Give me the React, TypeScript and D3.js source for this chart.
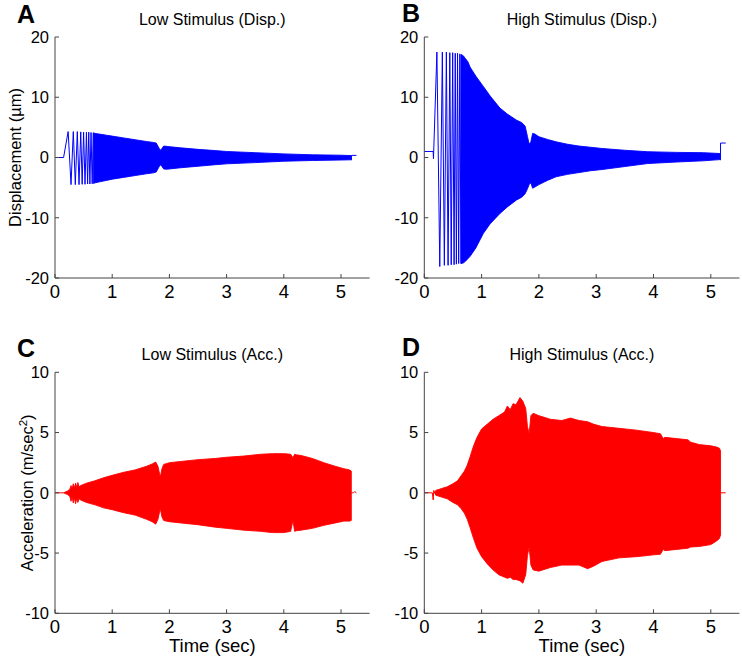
import React from "react";
import * as d3 from "d3";

// ---------- shared axes data ----------
const TIME_DOMAIN: [number, number] = [0, 5.5];
const TIME_TICKS = [0, 1, 2, 3, 4, 5];
const DISP_DOMAIN: [number, number] = [-20, 20];
const DISP_TICKS = [-20, -10, 0, 10, 20];
const ACC_DOMAIN: [number, number] = [-10, 10];
const ACC_TICKS = [-10, -5, 0, 5, 10];

// ---------- A: Low Stimulus (Disp.) ----------
const lowDispLeadT = [0, 0.15, 0.23, 0.28, 0.32, 0.355, 0.39, 0.42, 0.45, 0.475, 0.5, 0.525, 0.55, 0.57, 0.59, 0.61, 0.63, 0.65, 0.67];
const lowDispLeadV = [0, 0, 4.3, -4.5, 4.3, -4.5, 4.3, -4.5, 4.25, -4.45, 4.2, -4.45, 4.2, -4.4, 4.2, -4.4, 4.15, -4.35, 4.1];
const lowDispEnvT = [0.67, 0.7, 0.8, 0.9, 1.0, 1.2, 1.4, 1.6, 1.72, 1.77, 1.81, 1.84, 1.87, 1.9, 1.95, 2.0, 2.2, 2.5, 2.8, 3.0, 3.5, 4.0, 4.5, 5.0, 5.18];
const lowDispEnvUp = [4.1, 4.0, 3.85, 3.7, 3.55, 3.25, 2.95, 2.65, 2.5, 2.4, 1.7, 1.2, 1.5, 1.9, 1.85, 1.8, 1.6, 1.35, 1.15, 1.0, 0.8, 0.6, 0.45, 0.38, 0.32];
const lowDispEnvLo = [-4.3, -4.2, -4.0, -3.8, -3.6, -3.3, -3.0, -2.7, -2.55, -2.4, -1.7, -1.2, -1.5, -1.9, -1.95, -1.9, -1.7, -1.45, -1.2, -1.05, -0.85, -0.62, -0.5, -0.42, -0.38];
const lowDispTailT = [5.18, 5.18, 5.19, 5.27];
const lowDispTailV = [-0.45, 0.3, 0.35, 0.35];

// ---------- B: High Stimulus (Disp.) ----------
const highDispLeadT = [0, 0.155, 0.16, 0.22, 0.27, 0.315, 0.35, 0.385, 0.415, 0.445, 0.47, 0.495, 0.52, 0.54, 0.56, 0.58, 0.6, 0.62, 0.64];
const highDispLeadV = [1.0, 1.0, -0.2, 17.5, -18.1, 17.5, -17.9, 17.5, -17.9, 17.4, -17.8, 17.4, -17.8, 17.3, -17.7, 17.3, -17.6, 17.2, -17.6];
const highDispEnvT = [0.64, 0.68, 0.72, 0.76, 0.8, 0.9, 1.03, 1.15, 1.32, 1.45, 1.61, 1.7, 1.76, 1.8, 1.83, 1.86, 1.89, 1.93, 2.0, 2.15, 2.3, 2.5, 2.7, 2.9, 3.1, 3.5, 3.9, 4.4, 4.87, 5.16];
const highDispEnvUp = [17.1, 16.9, 16.4, 15.9, 15.0, 13.5, 11.8, 10.2, 8.2, 7.2, 6.2, 5.8, 5.2, 3.5, 2.2, 2.6, 4.0, 3.9, 3.45, 3.0, 2.6, 2.2, 1.9, 1.7, 1.5, 1.2, 0.96, 0.85, 0.8, 0.66];
const highDispEnvLo = [-17.6, -17.5, -17.2, -16.8, -16.4, -15.0, -12.6, -11.0, -9.3, -8.2, -7.05, -6.6, -6.0, -5.2, -4.5, -4.2, -5.1, -4.9, -4.5, -3.8, -3.2, -2.8, -2.5, -2.2, -2.0, -1.5, -1.0, -0.75, -0.55, -0.35];
const highDispTailT = [5.16, 5.17, 5.17, 5.26];
const highDispTailV = [-0.35, -0.4, 2.4, 2.4];

// ---------- C: Low Stimulus (Acc.) ----------
const lowAccLeadT = [0, 0.15];
const lowAccLeadV = [0, 0];
const lowAccEnvT = [0.15, 0.22, 0.26, 0.28, 0.3, 0.32, 0.34, 0.36, 0.38, 0.4, 0.42, 0.45, 0.55, 0.7, 0.85, 1.0, 1.2, 1.4, 1.6, 1.7, 1.76, 1.8, 1.84, 1.87, 1.9, 2.0, 2.2, 2.5, 2.8, 3.0, 3.3, 3.6, 3.8, 4.0, 4.12, 4.16, 4.19, 4.22, 4.3, 4.5, 4.7, 4.9, 5.05, 5.15, 5.18];
const lowAccEnvUp = [0, 0.15, 0.3, 0.6, 0.35, 0.75, 0.4, 0.8, 0.45, 0.85, 0.5, 0.6, 0.8, 1.0, 1.25, 1.45, 1.7, 1.9, 2.2, 2.4, 2.55, 2.2, 1.3, 2.0, 2.35, 2.5, 2.6, 2.75, 2.85, 2.95, 3.05, 3.2, 3.25, 3.25, 3.2, 2.9, 3.2, 3.15, 3.1, 2.85, 2.5, 2.2, 2.0, 1.9, 1.8];
const lowAccEnvLo = [0, -0.15, -0.3, -0.7, -0.35, -0.85, -0.4, -0.9, -0.45, -0.8, -0.5, -0.6, -0.8, -1.0, -1.25, -1.4, -1.65, -1.85, -2.2, -2.4, -2.6, -2.2, -1.3, -2.0, -2.3, -2.4, -2.5, -2.65, -2.85, -2.95, -3.1, -3.2, -3.3, -3.3, -3.2, -2.3, -3.2, -3.15, -3.1, -2.95, -2.7, -2.5, -2.35, -2.35, -2.3];
const lowAccTailT = [5.18, 5.22, 5.24, 5.27];
const lowAccTailV = [0, 0, 0.1, 0];

// ---------- D: High Stimulus (Acc.) ----------
const highAccLeadT = [0, 0.14, 0.155, 0.165, 0.18];
const highAccLeadV = [0, 0, -0.6, 0.2, 0];
const highAccEnvT = [0.18, 0.2, 0.3, 0.4, 0.5, 0.58, 0.64, 0.7, 0.75, 0.8, 0.86, 0.92, 1.0, 1.1, 1.2, 1.3, 1.4, 1.45, 1.5, 1.55, 1.6, 1.67, 1.72, 1.77, 1.8, 1.83, 1.86, 1.9, 2.0, 2.2, 2.4, 2.55, 2.7, 2.85, 2.95, 3.1, 3.4, 3.7, 4.0, 4.12, 4.17, 4.2, 4.4, 4.6, 4.65, 4.8, 5.0, 5.1, 5.15, 5.17];
const highAccEnvUp = [0, 0.2, 0.35, 0.5, 0.75, 1.0, 1.4, 1.8, 2.3, 3.0, 3.9, 4.6, 5.3, 5.7, 6.1, 6.4, 6.7, 7.2, 6.9, 7.4, 7.3, 7.9, 7.6, 7.0, 5.5, 4.9, 6.4, 6.6, 6.4, 6.1, 6.0, 6.2, 6.0, 5.9, 5.7, 5.5, 5.35, 5.2, 5.0, 4.9, 4.5, 4.6, 4.5, 4.4, 4.2, 4.0, 3.9, 3.8, 3.7, 3.5];
const highAccEnvLo = [0, -0.2, -0.35, -0.5, -0.8, -1.0, -1.3, -1.7, -2.2, -2.9, -3.8, -4.6, -5.3, -5.9, -6.4, -6.8, -7.0, -7.1, -7.0, -7.2, -7.2, -7.3, -7.5, -6.8, -5.2, -4.5, -6.0, -6.4, -6.5, -6.2, -6.0, -6.0, -6.0, -6.3, -6.1, -5.7, -5.4, -5.3, -5.15, -5.1, -4.7, -4.8, -4.7, -4.6, -4.5, -4.45, -4.3, -4.0, -3.8, -3.5];
const highAccTailT = [5.17, 5.26];
const highAccTailV = [0, 0];

const FONT = "'Liberation Sans', Arial, Helvetica, sans-serif";
const BLUE = "#0000ff";
const RED = "#ff0000";
const AXIS = "#444";

type PanelProps = {
  x0: number; y0: number; w: number; h: number;
  yDomain: [number, number]; yTicks: number[];
  color: string;
  leadT: number[]; leadV: number[];
  envT: number[]; envUp: number[]; envLo: number[];
  tailT: number[]; tailV: number[];
  title: string; letter: string; letterX: number; letterY: number;
  yLabel?: React.ReactNode; yLabelX?: number;
  xLabel?: string;
};

function Panel(p: PanelProps) {
  const xs = d3.scaleLinear().domain(TIME_DOMAIN).range([p.x0, p.x0 + p.w]);
  const ys = d3.scaleLinear().domain(p.yDomain).range([p.y0 + p.h, p.y0]);
  const mkLine = (T: number[], V: number[]) =>
    d3.line<number>().x((t) => xs(t)).y((_, i) => ys(V[i]))(T) || "";
  const area =
    d3
      .area<number>()
      .x((t) => xs(t))
      .y0((_, i) => ys(p.envLo[i]))
      .y1((_, i) => ys(p.envUp[i]))(p.envT) || "";
  const bottom = p.y0 + p.h;
  const cx = p.x0 + p.w / 2;
  return (
    <g>
      <path d={area} fill={p.color} stroke={p.color} strokeWidth={0.9} strokeLinejoin="round" />
      <path d={mkLine(p.leadT, p.leadV)} fill="none" stroke={p.color} strokeWidth={1} />
      <path d={mkLine(p.tailT, p.tailV)} fill="none" stroke={p.color} strokeWidth={1} />
      <line x1={p.x0} x2={p.x0} y1={p.y0} y2={bottom} stroke={AXIS} strokeWidth={1} />
      <line x1={p.x0} x2={p.x0 + p.w} y1={bottom} y2={bottom} stroke={AXIS} strokeWidth={1} />
      {p.yTicks.map((v) => (
        <g key={"y" + v}>
          <line x1={p.x0} x2={p.x0 + 4} y1={ys(v)} y2={ys(v)} stroke={AXIS} strokeWidth={1} />
          <text x={p.x0 - 6} y={ys(v)} dy="0.36em" textAnchor="end" fontSize={16.5} fontFamily={FONT} fill="#000">
            {v}
          </text>
        </g>
      ))}
      {TIME_TICKS.map((t) => (
        <g key={"x" + t}>
          <line x1={xs(t)} x2={xs(t)} y1={bottom} y2={bottom - 4} stroke={AXIS} strokeWidth={1} />
          <text x={xs(t)} y={bottom + 19.5} textAnchor="middle" fontSize={18.5} fontFamily={FONT} fill="#000">
            {t}
          </text>
        </g>
      ))}
      <text x={cx} y={p.y0 - 12} textAnchor="middle" fontSize={16} fontFamily={FONT} fill="#000">
        {p.title}
      </text>
      <text x={p.letterX} y={p.letterY} fontSize={25} fontWeight="bold" fontFamily={FONT} fill="#000">
        {p.letter}
      </text>
      {p.yLabel && (
        <text
          transform={`translate(${p.yLabelX},${p.y0 + p.h / 2}) rotate(-90)`}
          textAnchor="middle"
          fontSize={16.5}
          fontFamily={FONT}
          fill="#000"
        >
          {p.yLabel}
        </text>
      )}
      {p.xLabel && (
        <text x={cx} y={652} textAnchor="middle" fontSize={18.5} fontFamily={FONT} fill="#000">
          {p.xLabel}
        </text>
      )}
    </g>
  );
}

export default function App() {
  const W = 742;
  const H = 657;
  const unitL = 57.2;
  const unitR = 57.3;
  return (
    <svg
      width={W}
      height={H}
      style={{ position: "absolute", left: 0, top: 0, background: "#fff", display: "block" }}
    >
      <rect x={0} y={0} width={W} height={H} fill="#fff" />
      <Panel
        x0={55} y0={37} w={5.5 * unitL} h={241}
        yDomain={DISP_DOMAIN} yTicks={DISP_TICKS} color={BLUE}
        leadT={lowDispLeadT} leadV={lowDispLeadV}
        envT={lowDispEnvT} envUp={lowDispEnvUp} envLo={lowDispEnvLo}
        tailT={lowDispTailT} tailV={lowDispTailV}
        title="Low Stimulus (Disp.)" letter="A" letterX={17} letterY={23}
        yLabel={"Displacement (\u00b5m)"} yLabelX={20.5}
      />
      <Panel
        x0={424.3} y0={37} w={5.5 * unitR} h={241}
        yDomain={DISP_DOMAIN} yTicks={DISP_TICKS} color={BLUE}
        leadT={highDispLeadT} leadV={highDispLeadV}
        envT={highDispEnvT} envUp={highDispEnvUp} envLo={highDispEnvLo}
        tailT={highDispTailT} tailV={highDispTailV}
        title="High Stimulus (Disp.)" letter="B" letterX={402} letterY={22}
      />
      <Panel
        x0={55} y0={372.3} w={5.5 * unitL} h={241}
        yDomain={ACC_DOMAIN} yTicks={ACC_TICKS} color={RED}
        leadT={lowAccLeadT} leadV={lowAccLeadV}
        envT={lowAccEnvT} envUp={lowAccEnvUp} envLo={lowAccEnvLo}
        tailT={lowAccTailT} tailV={lowAccTailV}
        title="Low Stimulus (Acc.)" letter="C" letterX={17} letterY={357}
        yLabel={<>Acceleration (m/sec<tspan baselineShift="super" fontSize={11.5}>2</tspan>)</>}
        yLabelX={33}
        xLabel="Time (sec)"
      />
      <Panel
        x0={424.3} y0={372.3} w={5.5 * unitR} h={241}
        yDomain={ACC_DOMAIN} yTicks={ACC_TICKS} color={RED}
        leadT={highAccLeadT} leadV={highAccLeadV}
        envT={highAccEnvT} envUp={highAccEnvUp} envLo={highAccEnvLo}
        tailT={highAccTailT} tailV={highAccTailV}
        title="High Stimulus (Acc.)" letter="D" letterX={402} letterY={355.5}
        xLabel="Time (sec)"
      />
    </svg>
  );
}
